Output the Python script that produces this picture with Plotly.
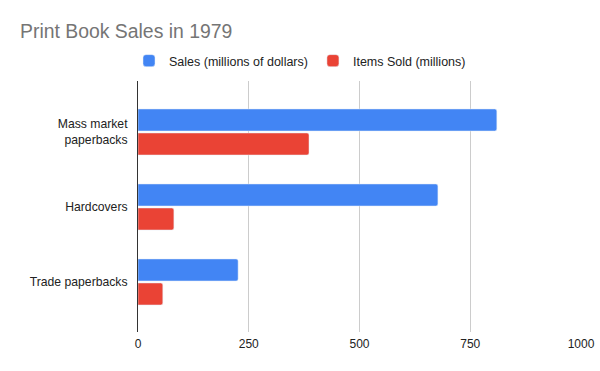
import plotly.graph_objects as go

categories = ["Mass market<br>paperbacks", "Hardcovers", "Trade paperbacks"]
sales = [810, 677, 226]
items_sold = [386, 81, 56]
x_ticks = [0, 250, 500, 750, 1000]

FONT = "Arial, Liberation Sans, sans-serif"

fig = go.Figure()
fig.add_trace(go.Bar(
    y=categories, x=sales, orientation="h",
    name="Sales (millions of dollars)", marker_color="#4285f4",
))
fig.add_trace(go.Bar(
    y=categories, x=items_sold, orientation="h",
    name="Items Sold (millions)", marker_color="#ea4335",
))

fig.update_layout(
    width=600, height=371,
    margin=dict(l=138, r=19, t=81, b=39, autoexpand=False),
    paper_bgcolor="white", plot_bgcolor="white",
    barmode="group", bargap=0.36, bargroupgap=0.083,
    barcornerradius=2,
    title=dict(text="Print Book Sales in 1979", x=20/600, xanchor="left",
               y=1 - 31/371, yanchor="middle",
               font=dict(family=FONT, size=19.4, color="#757575")),
    legend=dict(orientation="h", x=0.5, xanchor="center", xref="container",
                y=1 - 61/371, yanchor="middle", yref="container",
                font=dict(family=FONT, size=12.5, color="#222222"),
                itemwidth=30, traceorder="normal"),
    font=dict(family=FONT, size=12.5, color="#222222"),
    xaxis=dict(range=[0, 1000], tickvals=x_ticks, showgrid=True,
               gridcolor="#cccccc", gridwidth=1, zeroline=False,
               showline=False, ticks="", automargin=False,
               ticklabelstandoff=3,
               tickfont=dict(size=12, color="#222222")),
    yaxis=dict(range=[2.667, -0.68], showline=True, linecolor="#333333",
               linewidth=1, ticks="", showgrid=False, automargin=False,
               tickfont=dict(size=12.2, color="#222222"), ticklabelstandoff=7),
)

fig.write_html("out.html",
               config={"displayModeBar": False},
               post_script="document.body.style.margin='0';document.body.style.overflow='hidden';")
